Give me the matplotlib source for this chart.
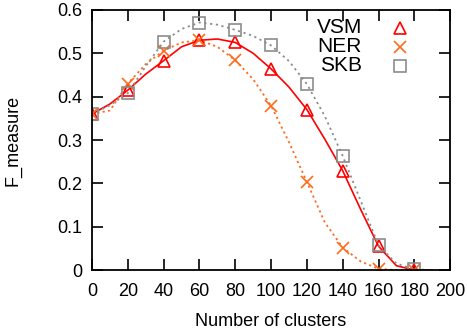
import numpy as np
import matplotlib
matplotlib.use('Agg')
import matplotlib.pyplot as plt

plt.rcParams['font.family'] = ['Liberation Sans', 'DejaVu Sans']

# marker positions (every 20 clusters)
clusters = [0, 20, 40, 60, 80, 100, 120, 140, 160, 180]
vsm = [0.36, 0.415, 0.483, 0.530, 0.525, 0.464, 0.370, 0.229, 0.055, 0.0]
ner = [0.36, 0.430, 0.506, 0.530, 0.484, 0.379, 0.203, 0.052, 0.003, 0.0]
skb = [0.36, 0.408, 0.527, 0.571, 0.554, 0.518, 0.429, 0.263, 0.057, 0.002]

# smoothed line traces, read every 10 clusters
line_x = [0, 10, 20, 30, 40, 50, 60, 70, 80, 90, 100, 110, 120, 130, 140, 150, 160, 170, 180, 190]
vsm_line = [0.36, 0.383, 0.415, 0.452, 0.483, 0.515, 0.530, 0.533, 0.525, 0.500, 0.464, 0.422, 0.370, 0.302, 0.229, 0.140, 0.055, 0.010, 0.0, 0.0]
ner_line = [0.36, 0.368, 0.430, 0.475, 0.506, 0.525, 0.530, 0.515, 0.484, 0.440, 0.379, 0.295, 0.203, 0.110, 0.052, 0.020, 0.003, 0.0, 0.0, 0.0]
skb_line = [0.36, 0.380, 0.408, 0.470, 0.527, 0.556, 0.571, 0.566, 0.554, 0.540, 0.518, 0.482, 0.429, 0.355, 0.263, 0.160, 0.057, 0.015, 0.002, 0.0]

labels = ['VSM', 'NER', 'SKB']
colors = ['#ff0000', '#ff6a1a', '#8c8c8c']
markers = ['^', 'x', 's']

fig = plt.figure(figsize=(4.67, 3.31), dpi=100)
ax = fig.add_axes([0.197, 0.184, 0.767, 0.786])

ax.plot(line_x, vsm_line, color=colors[0], lw=1.2, ls='-')
ax.plot(line_x, ner_line, color=colors[1], lw=1.3, ls=(0, (1.2, 1.8)))
ax.plot(line_x, skb_line, color=colors[2], lw=1.3, ls=(0, (1.2, 2.0)))

for ys, c, m in zip([vsm, ner, skb], colors, markers):
    ax.plot(clusters, ys, ls='none', marker=m, ms=8, mfc='none', mec=c, mew=1.2)

ax.set_xlim(0, 200)
ax.set_ylim(0, 0.6)
ax.set_xticks(range(0, 201, 20))
ax.set_yticks([0, 0.1, 0.2, 0.3, 0.4, 0.5, 0.6])
ax.set_yticklabels(['0', '0.1', '0.2', '0.3', '0.4', '0.5', '0.6'])
ax.tick_params(direction='in', length=8, width=1.2, top=True, right=True, labelsize=13, pad=7)
ax.tick_params(axis='x', pad=9)
for s in ax.spines.values():
    s.set_linewidth(1.3)

ax.set_xlabel('Number of clusters', fontsize=13, labelpad=10)
ax.set_ylabel('F_measure', fontsize=13, labelpad=26)

# key: label text right-aligned, sample marker to the right
for i, (lab, c, m) in enumerate(zip(labels, colors, markers)):
    yy = 0.931 - i * 0.073
    ax.text(0.754, yy, lab, transform=ax.transAxes, ha='right', va='center', fontsize=15)
    ax.plot([0.860], [yy], transform=ax.transAxes, ls='none', marker=m, ms=8,
            mfc='none', mec=c, mew=1.2, clip_on=False)

fig.savefig('out.png', dpi=100)
